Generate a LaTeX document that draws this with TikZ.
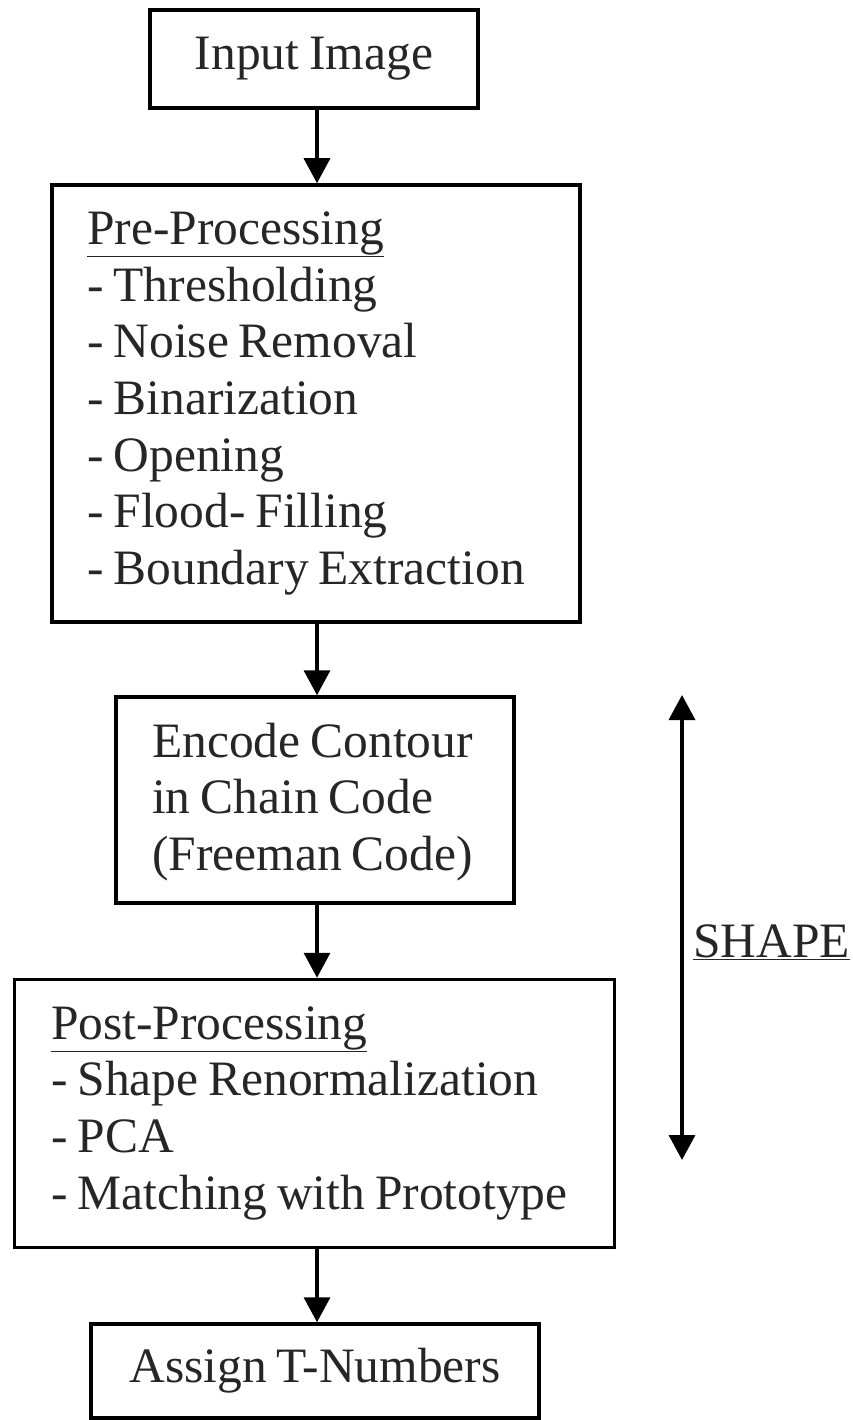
\documentclass[tikz,border=0pt]{standalone}
\usepackage{fontspec}
\setmainfont[WordSpace=0.8]{Liberation Serif}
\usetikzlibrary{arrows.meta}
\begin{document}
\begin{tikzpicture}[x=1pt,y=-1pt,
  box/.style={draw=black,line width=3.5pt,inner sep=0pt,font=\fontsize{49.5}{56.7}\selectfont,text=black!85},
  txt/.style={inner sep=0pt,align=left,anchor=west,font=\fontsize{49.5}{56.7}\selectfont,text=black!85},
  flow/.style={line width=3.5pt,-{Triangle[width=26pt,length=25pt]}},
  lbl/.style={font=\fontsize{49.5}{56.7}\selectfont,text=black!85,inner sep=0pt}]
\useasboundingbox (0,0) rectangle (852,1420);
\node[box,minimum width=328pt,minimum height=98pt] (inp) at (314,59) {Input Image};
\node[box,minimum width=528pt,minimum height=437pt] (pre) at (316,403.5) {};
\node[txt] (pretext) at (87,403.5)
  {\underline{Pre-Processing}\\- Thresholding\\- Noise Removal\\- Binarization\\- Opening\\- Flood- Filling\\- Boundary Extraction};
\node[box,minimum width=398pt,minimum height=206pt] (enc) at (315,800) {};
\node[txt] (enctext) at (152,802)
  {Encode Contour\\in Chain Code\\(Freeman Code)};
\node[box,minimum width=600pt,minimum height=268pt] (post) at (314.5,1113.5) {};
\node[txt] (posttext) at (51,1113)
  {\underline{Post-Processing}\\- Shape Renormalization\\- PCA\\- Matching with Prototype};
\node[box,minimum width=448pt,minimum height=94pt] (asg) at (315,1371) {Assign T-Numbers};
\draw[flow] (inp.south -| 317,0) -- (pre.north -| 317,0);
\draw[flow] (pre.south -| 317,0) -- (enc.north -| 317,0);
\draw[flow] (enc.south -| 317,0) -- (post.north -| 317,0);
\draw[flow] (post.south -| 317,0) -- (asg.north -| 317,0);
\coordinate (top) at (682,695);
\coordinate (bot) at (682,1160);
\draw[line width=3.5pt,{Triangle[width=26pt,length=25pt]}-{Triangle[width=26pt,length=25pt]}] (top) -- (bot);
\node[lbl,anchor=base west] (shape) at (693,957) {\underline{SHAPE}};
\end{tikzpicture}
\end{document}
